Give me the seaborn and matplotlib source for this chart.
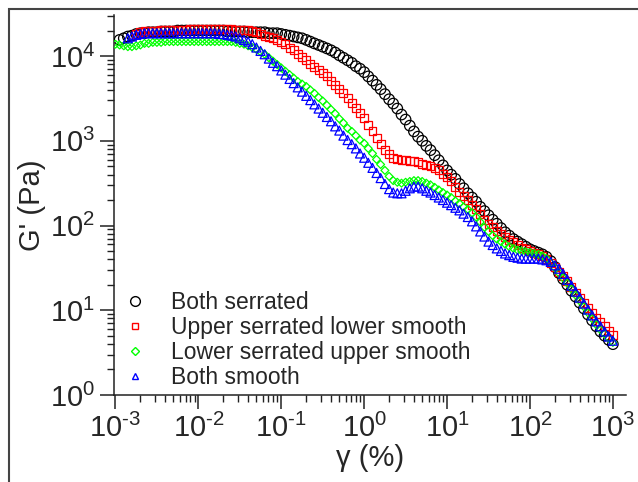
import numpy as np
import pandas as pd
import matplotlib
matplotlib.use("Agg")
import matplotlib.pyplot as plt
from matplotlib.lines import Line2D
from matplotlib.patches import Rectangle
from matplotlib.ticker import LogLocator, FuncFormatter, NullFormatter
import seaborn as sns

# Strain amplitude (%), shared grid
strain = [
    1.00e-3, 1.12e-3, 1.26e-3, 1.41e-3, 1.58e-3, 1.78e-3, 2.00e-3, 2.24e-3, 2.51e-3, 2.82e-3,
    3.16e-3, 3.55e-3, 3.98e-3, 4.47e-3, 5.01e-3, 5.62e-3, 6.31e-3, 7.08e-3, 7.94e-3, 8.91e-3,
    1.00e-2, 1.12e-2, 1.26e-2, 1.41e-2, 1.58e-2, 1.78e-2, 2.00e-2, 2.24e-2, 2.51e-2, 2.82e-2,
    3.16e-2, 3.55e-2, 3.98e-2, 4.47e-2, 5.01e-2, 5.62e-2, 6.31e-2, 7.08e-2, 7.94e-2, 8.91e-2,
    1.00e-1, 1.12e-1, 1.26e-1, 1.41e-1, 1.58e-1, 1.78e-1, 2.00e-1, 2.24e-1, 2.51e-1, 2.82e-1,
    3.16e-1, 3.55e-1, 3.98e-1, 4.47e-1, 5.01e-1, 5.62e-1, 6.31e-1, 7.08e-1, 7.94e-1, 8.91e-1,
    1.00, 1.12, 1.26, 1.41, 1.58, 1.78, 2.00, 2.24, 2.51, 2.82,
    3.16, 3.55, 3.98, 4.47, 5.01, 5.62, 6.31, 7.08, 7.94, 8.91,
    10.0, 11.2, 12.6, 14.1, 15.8, 17.8, 20.0, 22.4, 25.1, 28.2,
    31.6, 35.5, 39.8, 44.7, 50.1, 56.2, 63.1, 70.8, 79.4, 89.1,
    100, 112, 126, 141, 158, 178, 200, 224, 251, 282,
    316, 355, 398, 447, 501, 562, 631, 708, 794, 891,
    1000,
]

# G' (Pa) for each plate combination (series start at different strains, all end at 1000 %)
both_serrated = [
    15500, 16200, 17000, 17400, 18200, 18600, 18600, 19100, 19100, 19100,
    19500, 19500, 19500, 19500,
    20000, 20000, 20000, 20000, 20000, 20000, 20000, 20000, 20000, 20000, 20000, 20000,
    19500, 19500, 19500, 19500, 19500,
    19100, 19100, 19100, 19100, 19100,
    18600, 18600, 18600,
    18200, 17800, 17400, 17000, 16600, 16200, 15500, 14800, 14100, 13500,
    12900, 12300, 11700, 11000, 10200, 9550, 8910, 8320, 7590, 7080,
    6460, 5750, 5130, 4570, 4070, 3550, 3090, 2750, 2400, 2040,
    1780, 1510, 1290, 1120, 1000, 871, 776, 676, 589, 513,
    447, 398, 355, 309, 275, 240, 214, 191, 166, 148,
    132, 117, 105, 93.3, 83.2, 75.9, 69.2, 64.6, 60.3, 56.2,
    52.5, 50.1, 47.9, 45.7, 42.7, 38.0, 32.4, 27.5, 23.4, 20.0,
    17.0, 14.5, 12.3, 10.5, 8.91, 7.59, 6.46, 5.62, 5.01, 4.47,
    3.98,
]

upper_serrated = [
    18200, 19100, 19500, 20000, 20000, 20000,
    20400, 20400, 20400, 20400, 20400, 20400, 20400,
    20900, 20900, 20900, 20900, 20900, 20900, 20900, 20900, 20900, 20900, 20900,
    20400, 20400, 20400, 20400,
    20000, 19100, 18200, 17400, 16600, 16200, 15500,
    14800, 13800, 12600, 11700, 10700, 9770, 8910, 8130, 7410, 6760,
    6310, 5750, 5130, 4570, 4070, 3630, 3240, 2820, 2450, 2140,
    1860, 1550, 1290, 1070, 912, 776, 692, 631, 603, 589,
    589, 575, 575, 562, 537, 513, 501, 479, 447, 407,
    372, 331, 288, 251, 224, 200, 174, 155, 135, 117,
    105, 95.5, 87.1, 79.4, 72.4, 67.6, 63.1, 58.9, 55.0, 52.5,
    50.1, 47.9, 45.7, 43.7, 40.7, 36.3, 32.4, 28.2, 25.1, 21.9,
    18.6, 16.2, 14.1, 12.3, 10.7, 9.33, 8.13, 7.24, 6.46, 5.75,
    5.13,
]

lower_serrated = [
    13800, 13500, 13200, 12900, 12900, 13200, 13500, 14100, 14100, 14500, 14500, 14500, 14800,
    14800, 14800, 14800, 14800, 14800, 14800, 14800, 14800,
    14800, 14800, 14800, 14800, 14800, 14800, 14800, 14800,
    14500, 14100, 13800, 13200, 12600,
    12000, 11200, 10500, 9550, 8710, 7940,
    7240, 6610, 6030, 5500, 5010, 4680, 4370, 3980, 3630, 3240,
    2950, 2630, 2340, 2090, 1820, 1620, 1410, 1290, 1150, 1020,
    933, 813, 708, 603, 525, 447, 380, 339, 324, 316,
    324, 331, 339, 339, 331, 316, 302, 282, 263, 245,
    229, 214, 195, 182, 166, 155, 141, 126, 110, 95.5,
    85.1, 75.9, 69.2, 64.6, 60.3, 56.2, 53.7, 51.3, 50.1, 49.0,
    47.9, 46.8, 45.7, 43.7, 40.7, 36.3, 31.6, 27.5, 24.0, 20.9,
    17.8, 15.1, 12.9, 11.0, 9.33, 7.94, 6.76, 5.89, 5.25, 4.68,
    4.17,
]

both_smooth = [
    16200, 17000, 17800, 18200, 18600,
    18600, 18600, 18600, 18600, 18600, 18600, 18600, 18600, 18600,
    18600, 18600, 18600, 18600, 18600, 18600, 18600, 18600,
    18200, 18200, 17800, 17400, 17000, 16200, 15500, 14800, 13800, 12600,
    11500, 10500, 9330, 8320, 7590,
    6760, 6030, 5370, 4790, 4270, 3800, 3390, 3020, 2690, 2400,
    2140, 1910, 1700, 1480, 1320, 1150, 1020, 912, 813, 708,
    631, 550, 479, 417, 363, 309, 269, 245, 240, 240,
    257, 275, 288, 288, 275, 257, 245, 229, 214, 200,
    186, 174, 162, 151, 138, 126, 112, 97.7, 85.1, 74.1,
    64.6, 58.9, 53.7, 50.1, 46.8, 44.7, 42.7, 41.7, 40.7, 40.7,
    40.7, 40.7, 40.7, 39.8, 38.9, 37.2, 33.9, 30.9, 26.9, 22.9,
    19.5, 16.6, 14.1, 12.0, 10.2, 8.71, 7.41, 6.46, 5.62, 4.90,
    4.37,
]

labels = ["Both serrated", "Upper serrated lower smooth",
          "Lower serrated upper smooth", "Both smooth"]
series = [both_serrated, upper_serrated, lower_serrated, both_smooth]
assert [len(s) for s in series] == [120, 116, 121, 118]

colors = ["black", "#ff0000", "#00ff00", "#0000ff"]
markers = ["o", "s", "D", "^"]
sizes = [57, 33, 16, 42]
leg_sizes = [7.0, 4.5, 3.6, 5.0]

sns.set_style("ticks")
plt.rcParams["font.family"] = ["Liberation Sans", "DejaVu Sans"]
plt.rcParams["mathtext.fontset"] = "custom"
plt.rcParams["mathtext.rm"] = "Liberation Sans"
plt.rcParams["mathtext.it"] = "Liberation Sans:italic"
plt.rcParams["mathtext.bf"] = "Liberation Sans:bold"

fig = plt.figure(figsize=(6.38, 4.82), dpi=100)
ax = fig.add_axes([114 / 638, 87 / 482, 512 / 638, 380 / 482])

for lab, g, col, mk, sz in zip(labels, series, colors, markers, sizes):
    df = pd.DataFrame({"strain": strain[len(strain) - len(g):], "G": g})
    sns.scatterplot(data=df, x="strain", y="G", ax=ax, marker=mk, s=sz,
                    facecolor="none", edgecolor=col, linewidth=0.9,
                    legend=False, zorder=3)

ax.set_xscale("log")
ax.set_yscale("log")
ax.set_xlim(9.6e-4, 1.44e3)
ax.set_ylim(1, 3.05e4)


def pow_label(v, pos):
    # hyphen instead of the typographic minus, as in the original figure
    return r"$\mathdefault{10^{\text{%d}}}$" % round(np.log10(v))


for axis in (ax.xaxis, ax.yaxis):
    axis.set_major_locator(LogLocator(base=10, numticks=20))
    axis.set_minor_locator(LogLocator(base=10, subs=np.arange(2, 10), numticks=20))
    axis.set_major_formatter(FuncFormatter(pow_label))
    axis.set_minor_formatter(NullFormatter())

ax.tick_params(which="major", direction="out", length=10, width=1.1,
               color="#222222", labelsize=21, pad=3.5)
ax.tick_params(which="minor", direction="out", length=5, width=1.0, color="#222222")
for side in ["top", "right"]:
    ax.spines[side].set_visible(False)
for side in ["left", "bottom"]:
    ax.spines[side].set_linewidth(1.1)
    ax.spines[side].set_color("#222222")

ax.set_xlabel("\u03b3 (%)", fontsize=21, labelpad=1)
ax.set_ylabel("G' (Pa)", fontsize=21, labelpad=3)

handles = [Line2D([], [], linestyle="none", marker=mk, markersize=ms,
                  markerfacecolor="none", markeredgecolor=col, markeredgewidth=1.0)
           for mk, ms, col in zip(markers, leg_sizes, colors)]
ax.legend(handles, labels, loc="upper left", bbox_to_anchor=(0.0195, 0.274),
          frameon=False, fontsize=16.5, handlelength=1.0, handletextpad=1.05,
          labelspacing=0.085, borderpad=0, borderaxespad=0)

# outer frame of the original figure
fig.patches.append(Rectangle((9 / 638, -0.1), 1.2, (482 - 9) / 482 + 0.1,
                             transform=fig.transFigure, fill=False,
                             edgecolor="#444444", linewidth=1.5))

fig.savefig("out.png", dpi=100)
